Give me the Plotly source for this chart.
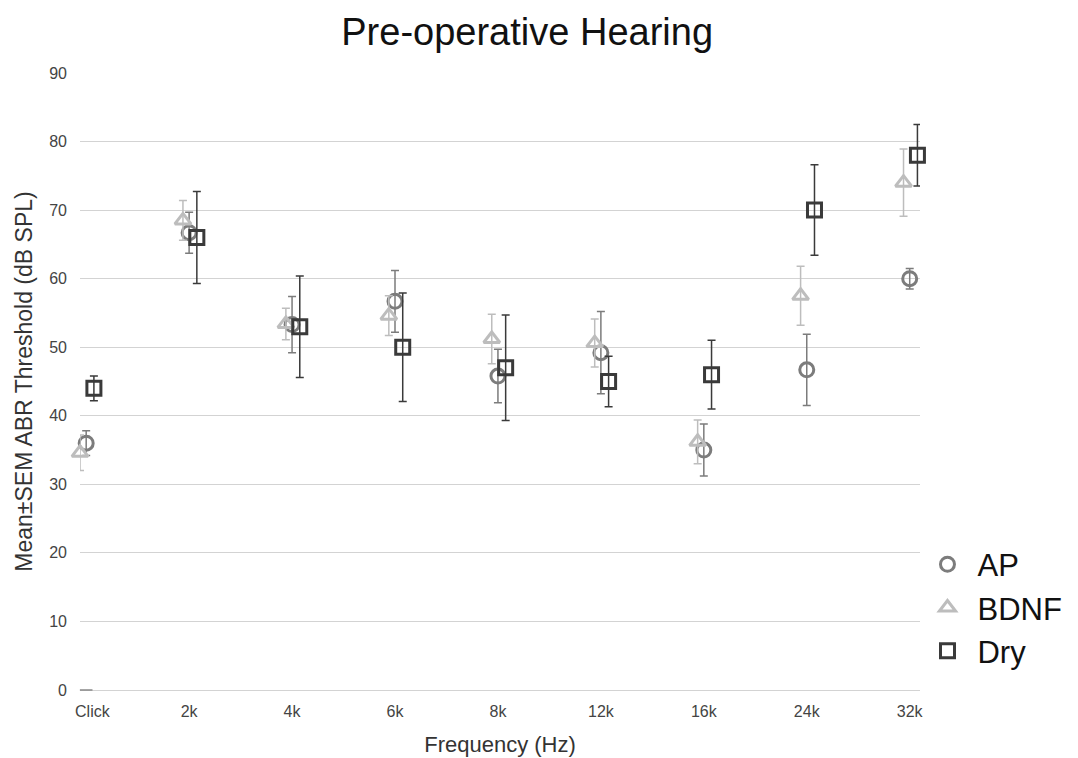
import plotly.graph_objects as go

categories = ["Click", "2k", "4k", "6k", "8k", "12k", "16k", "24k", "32k"]

ap_mean = [36.0, 66.7, 53.3, 56.7, 45.8, 49.2, 35.0, 46.7, 60.0]
ap_sem = [1.8, 3.0, 4.1, 4.5, 3.9, 6.0, 3.8, 5.2, 1.5]

bdnf_mean = [34.6, 68.5, 53.4, 54.6, 51.2, 50.6, 36.2, 57.5, 74.0]
bdnf_sem = [2.6, 2.9, 2.3, 2.9, 3.6, 3.5, 3.2, 4.3, 4.9]

dry_mean = [44.0, 66.0, 53.0, 50.0, 47.0, 45.0, 46.0, 70.0, 78.0]
dry_sem = [1.8, 6.7, 7.4, 7.9, 7.7, 3.7, 5.0, 6.6, 4.5]

stray_value = [0]

y_ticks = [0, 10, 20, 30, 40, 50, 60, 70, 80, 90]

FONT = "Liberation Sans, Arial, sans-serif"
idx = list(range(len(categories)))

series = [
    ("AP", ap_mean, ap_sem, "circle-open", "#7c7c7c", "#7c7c7c", 0.0),
    ("BDNF", bdnf_mean, bdnf_sem, "triangle-up-open", "#bdbdbd", "#bdbdbd", -0.06),
    ("Dry", dry_mean, dry_sem, "square-open", "#3a3a3a", "#3a3a3a", 0.075),
]

fig = go.Figure()
for name, m, s, sym, col, ecol, off in series:
    fig.add_trace(go.Scatter(
        x=[i + off for i in idx], y=m, name=name, mode="markers",
        marker=dict(symbol=sym, size=14, color=col, line=dict(width=3, color=col)),
        error_y=dict(type="data", array=s, visible=True, color=ecol, thickness=1.5, width=4),
        cliponaxis=False,
    ))

fig.add_trace(go.Scatter(
    x=[0], y=stray_value, mode="markers", showlegend=False, hoverinfo="skip",
    marker=dict(symbol="line-ew-open", size=9, color="#888888", line=dict(width=1.5, color="#888888")),
    cliponaxis=False,
))

fig.update_layout(
    width=1078, height=758,
    margin=dict(l=80, r=158, t=73, b=68, autoexpand=False),
    paper_bgcolor="white", plot_bgcolor="white",
    font=dict(family=FONT, color="#444444"),
    title=dict(text="Pre-operative Hearing", x=0.489, xanchor="center", y=0.958, yanchor="middle",
               font=dict(size=38, color="#111111", family=FONT)),
    legend=dict(x=0.997, xanchor="left", y=0.247, yanchor="top",
                font=dict(size=31, color="#111111", family=FONT),
                bgcolor="rgba(0,0,0,0)", tracegroupgap=0, itemwidth=50),
    showlegend=True,
)

fig.update_xaxes(
    range=[-0.06, 8.1], tickvals=[0.06] + idx[1:], ticktext=categories,
    showgrid=False, zeroline=False, showline=False, ticks="",
    tickfont=dict(size=16, color="#444444"), ticklabelstandoff=10,
    title=dict(text="Frequency (Hz)", font=dict(size=22, color="#333333"), standoff=17),
    automargin=False,
)
fig.update_yaxes(
    range=[0, 90], tickvals=y_ticks, showgrid=True, gridcolor="#d3d3d3", gridwidth=1,
    zeroline=True, zerolinecolor="#d3d3d3", zerolinewidth=1, showline=False, ticks="",
    tickfont=dict(size=16, color="#444444"), ticklabelstandoff=12,
    title=dict(text="Mean±SEM ABR Threshold (dB SPL)", font=dict(size=23, color="#333333"), standoff=10),
    automargin=False,
)

fig.write_html("out.html")
